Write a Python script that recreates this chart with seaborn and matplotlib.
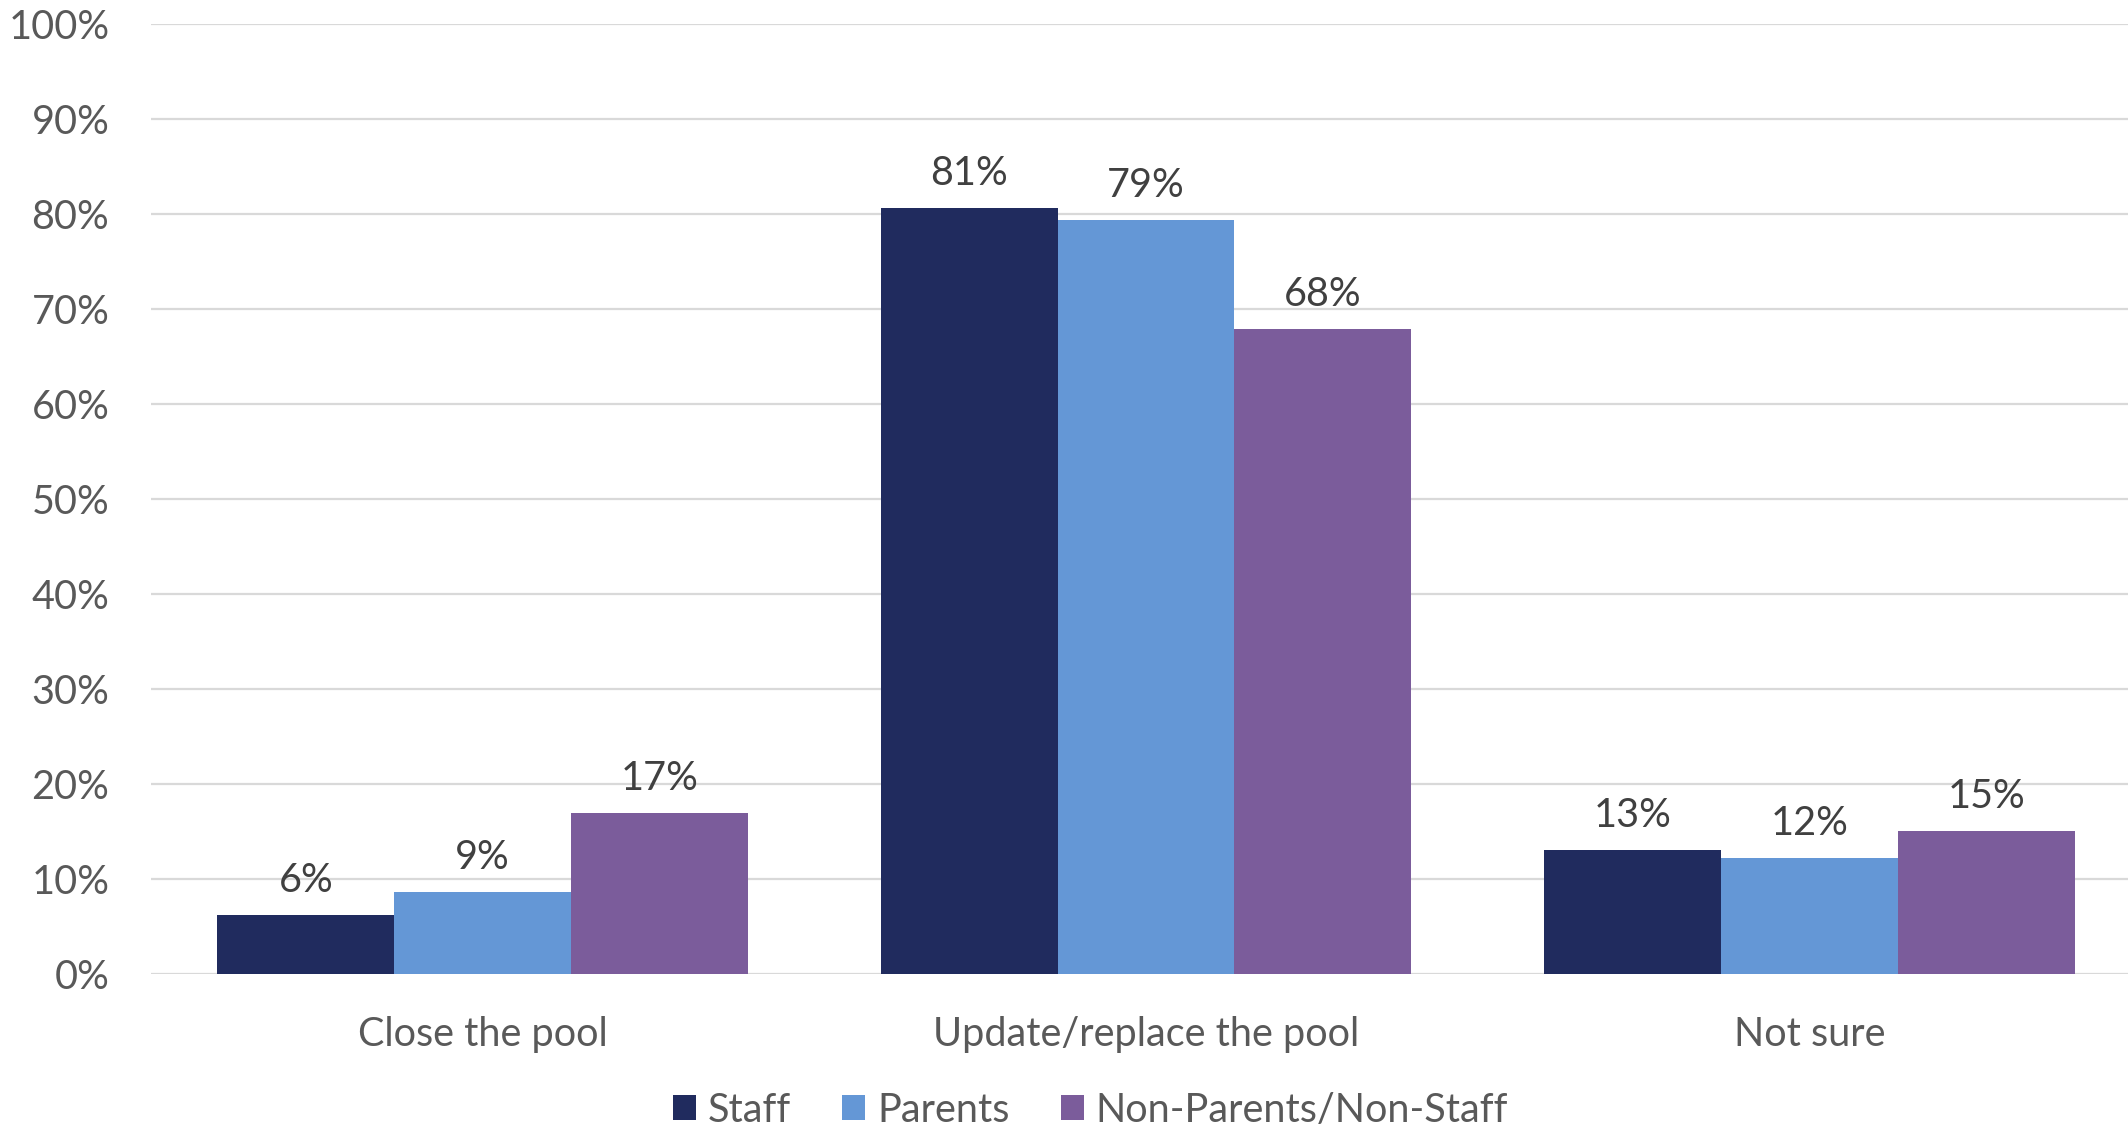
import matplotlib
matplotlib.use("Agg")
import matplotlib.pyplot as plt
import seaborn as sns
import pandas as pd
from matplotlib.patches import Patch

categories = ["Close the pool", "Update/replace the pool", "Not sure"]
groups = ["Staff", "Parents", "Non-Parents/Non-Staff"]
staff = [6.2, 80.6, 13.1]
parents = [8.6, 79.4, 12.2]
non_parents = [16.9, 67.9, 15.1]
colors = ["#202B5E", "#6497D6", "#7B5C9B"]
yticks = [0, 10, 20, 30, 40, 50, 60, 70, 80, 90, 100]

rows = []
for g, vals in zip(groups, [staff, parents, non_parents]):
    for c, v in zip(categories, vals):
        rows.append({"category": c, "group": g, "value": v})
df = pd.DataFrame(rows)

sns.set_style("white")
plt.rcParams["font.family"] = ["Lato", "DejaVu Sans"]

W, H = 2128, 1127
left, right, top, bottom = 151, 2141, 24, 974
fig = plt.figure(figsize=(W / 100, H / 100), dpi=100)
ax = fig.add_axes([left / W, 1 - bottom / H, (right - left) / W, (bottom - top) / H])

sns.barplot(data=df, x="category", y="value", hue="group", order=categories,
            hue_order=groups, palette=colors, width=0.8, saturation=1,
            edgecolor="none", linewidth=0, ax=ax, legend=False, zorder=3)

ax.set_ylim(0, 100)
ax.set_xlim(-0.5, 2.5)
ax.set_yticks(yticks)
ax.set_yticklabels([f"{t}%" for t in yticks])
ax.yaxis.grid(True, color="#D9D9D9", linewidth=1.6, zorder=0)
ax.set_axisbelow(True)
for s in ax.spines.values():
    s.set_visible(False)
ax.tick_params(axis="both", length=0, labelsize=28.5, colors="#595959")
ax.tick_params(axis="y", pad=30)
ax.tick_params(axis="x", pad=30)
ax.set_xlabel("")
ax.set_ylabel("")

for cont in ax.containers:
    ax.bar_label(cont, labels=[f"{round(b.get_height()):d}%" for b in cont],
                 padding=11.5, fontsize=28.5, color="#404040")

handles = [Patch(facecolor=c, edgecolor="none") for c in colors]
fig.legend(handles, groups, loc="center", bbox_to_anchor=(0.5124, 1 - 1110 / H),
           ncol=3, frameon=False, fontsize=28.5, labelcolor="#595959",
           handlelength=0.58, handleheight=0.58, handletextpad=0.3,
           columnspacing=1.3, borderpad=0, borderaxespad=0)

fig.savefig("out.png", dpi=100)
